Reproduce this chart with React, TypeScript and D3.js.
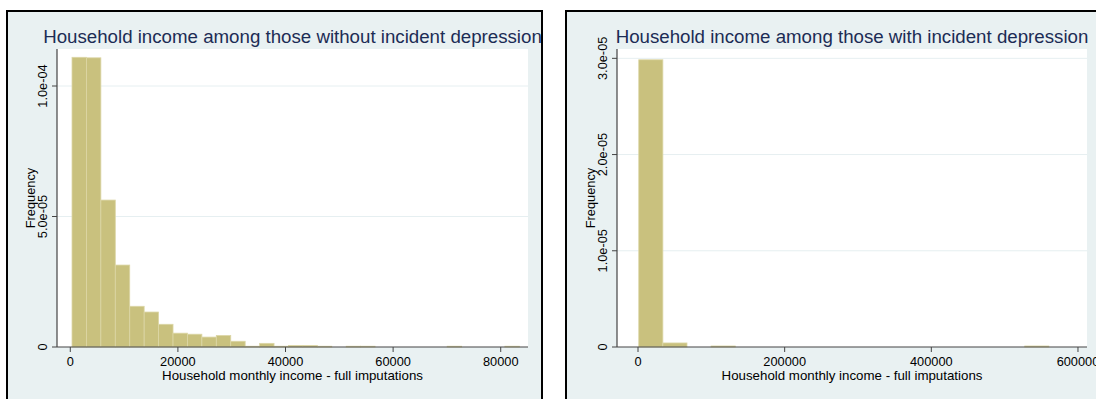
import React from "react";
import * as d3 from "d3";

// ---- Data ----
const leftTitle = "Household income among those without incident depression";
const rightTitle = "Household income among those with incident depression";
const xAxisTitle = "Household monthly income - full imputations";
const yAxisTitle = "Frequency";

// Left histogram: 31 bins, density values (x 1e-5)
const leftBinStart = 320;
const leftBinWidth = 2682;
const leftDensity = [
  11.1, 11.08, 5.63, 3.14, 1.56, 1.34, 0.87, 0.53, 0.49, 0.38, 0.44, 0.22, 0.03, 0.14, 0.03, 0.06,
  0.06, 0.03, 0, 0.03, 0.03, 0, 0, 0, 0, 0, 0.03, 0, 0, 0, 0.03,
];
const leftXTicks = [0, 20000, 40000, 60000, 80000];
const leftYTicks = [0, 5e-5, 1e-4];
const leftYTickLabels = ["0", "5.0e-05", "1.0e-04"];

// Right histogram: 17 bins, density values (x 1e-5)
const rightBinStart = 1000;
const rightBinWidth = 32900;
const rightDensity = [2.985, 0.042, 0, 0.0105, 0, 0, 0, 0, 0, 0, 0, 0, 0, 0, 0, 0, 0.0105];
const rightXTicks = [0, 200000, 400000, 600000];
const rightYTicks = [0, 1e-5, 2e-5, 3e-5];
const rightYTickLabels = ["0", "1.0e-05", "2.0e-05", "3.0e-05"];

// ---- Style ----
const W = 1096;
const H = 399;
const BG = "#e9f1f2";
const BAR = "#c9c17e";
const BAR_EDGE = "#dcd6a6";
const TITLE = "#1c2c55";
const AXIS = "#444";
const GRID = "#e6eff1";
const FONT = "'Liberation Sans', Arial, Helvetica, sans-serif";
const TICK_FS = 12.8;
const AXT_FS = 13.3;

type PanelProps = {
  frameX: number;
  plotL: number;
  plotR: number;
  xDomain: [number, number];
  yMax: number;
  title: string;
  binStart: number;
  binWidth: number;
  density: number[];
  xTicks: number[];
  yTicks: number[];
  yTickLabels: string[];
};

const plotT = 49;
const plotB = 347;

function Panel(p: PanelProps) {
  const x = d3.scaleLinear().domain(p.xDomain).range([p.plotL, p.plotR]);
  const y = d3.scaleLinear().domain([0, p.yMax]).range([plotB, plotT]);
  const cx = (p.plotL + p.plotR) / 2;
  const cy = (plotT + plotB) / 2;
  const fmt = d3.format("d");
  return (
    <g>
      <rect x={p.frameX} y={11} width={535} height={420} fill={BG} stroke="#000" strokeWidth={2} />
      <rect x={p.plotL} y={plotT} width={p.plotR - p.plotL} height={plotB - plotT} fill="#fff" />
      {p.yTicks.filter((t) => t > 0).map((t, i) => (
        <line key={"g" + i} x1={p.plotL} x2={p.plotR} y1={y(t)} y2={y(t)} stroke={GRID} strokeWidth={1} />
      ))}
      {p.density.map((d, i) => {
        const v = d * 1e-5;
        if (v <= 0) return null;
        const x0 = x(p.binStart + i * p.binWidth);
        const x1 = x(p.binStart + (i + 1) * p.binWidth);
        return (
          <rect
            key={"b" + i}
            x={x0}
            y={y(v)}
            width={x1 - x0}
            height={Math.max(plotB - y(v), 0.6)}
            fill={BAR}
            stroke={BAR_EDGE}
            strokeWidth={0.8}
          />
        );
      })}
      <line x1={p.plotL} x2={p.plotL} y1={plotT} y2={plotB} stroke={AXIS} strokeWidth={1.2} />
      <line x1={p.plotL} x2={p.plotR} y1={plotB} y2={plotB} stroke={AXIS} strokeWidth={1.2} />
      {p.yTicks.map((t, i) => (
        <g key={"yt" + i}>
          <line x1={p.plotL - 5} x2={p.plotL} y1={y(t)} y2={y(t)} stroke={AXIS} strokeWidth={1} />
          <text
            transform={`translate(${p.plotL - 10.5},${y(t)}) rotate(-90)`}
            textAnchor="middle"
            fontFamily={FONT}
            fontSize={TICK_FS}
            fill="#000"
          >
            {p.yTickLabels[i]}
          </text>
        </g>
      ))}
      {p.xTicks.map((t, i) => (
        <g key={"xt" + i}>
          <line x1={x(t)} x2={x(t)} y1={plotB} y2={plotB + 5} stroke={AXIS} strokeWidth={1} />
          <text x={x(t)} y={366} textAnchor="middle" fontFamily={FONT} fontSize={TICK_FS} fill="#000">
            {fmt(t)}
          </text>
        </g>
      ))}
      <text x={cx} y={380} textAnchor="middle" fontFamily={FONT} fontSize={AXT_FS} fill="#000">
        {xAxisTitle}
      </text>
      <text
        transform={`translate(${p.plotL - 22},${cy}) rotate(-90)`}
        textAnchor="middle"
        fontFamily={FONT}
        fontSize={TICK_FS}
        fill="#000"
      >
        {yAxisTitle}
      </text>
      <text x={cx} y={42.8} textAnchor="middle" fontFamily={FONT} fontSize={18.7} fill={TITLE}>
        {p.title}
      </text>
    </g>
  );
}

export default function App() {
  return (
    <svg
      width={W}
      height={H}
      style={{ position: "absolute", left: 0, top: 0, background: "#fff" }}
    >
      <Panel
        frameX={7}
        plotL={57}
        plotR={528}
        xDomain={[-2470, 85070]}
        yMax={1.1418e-4}
        title={leftTitle}
        binStart={leftBinStart}
        binWidth={leftBinWidth}
        density={leftDensity}
        xTicks={leftXTicks}
        yTicks={leftYTicks}
        yTickLabels={leftYTickLabels}
      />
      <Panel
        frameX={566}
        plotL={617}
        plotR={1087}
        xDomain={[-28650, 612300]}
        yMax={3.097e-5}
        title={rightTitle}
        binStart={rightBinStart}
        binWidth={rightBinWidth}
        density={rightDensity}
        xTicks={rightXTicks}
        yTicks={rightYTicks}
        yTickLabels={rightYTickLabels}
      />
    </svg>
  );
}
